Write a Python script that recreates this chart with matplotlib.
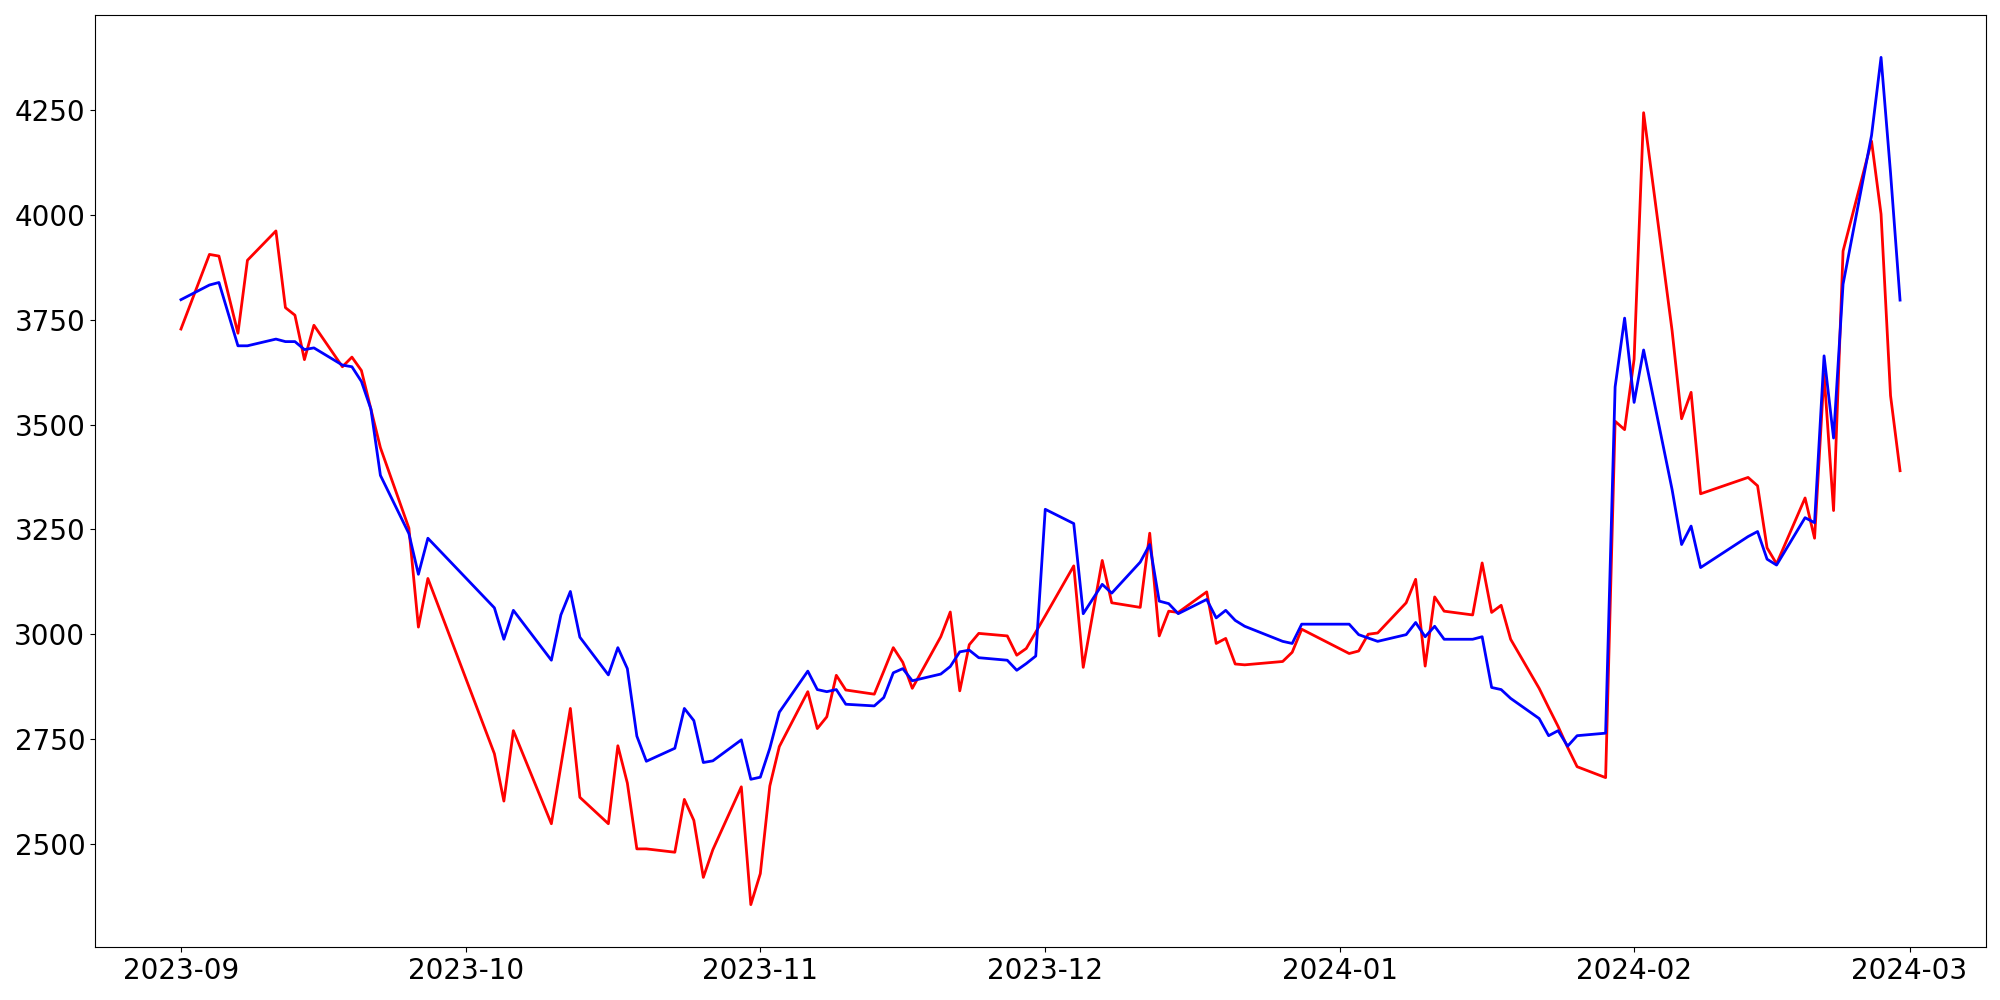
import matplotlib
matplotlib.use("Agg")
import matplotlib.pyplot as plt
import pandas as pd

# daty notowan (dni robocze z przerwami swiatecznymi)
daty = [
    "2023-09-01", "2023-09-04", "2023-09-05", "2023-09-07", "2023-09-08",
    "2023-09-11", "2023-09-12", "2023-09-13", "2023-09-14", "2023-09-15",
    "2023-09-18", "2023-09-19", "2023-09-20", "2023-09-21", "2023-09-22",
    "2023-09-25", "2023-09-26", "2023-09-27",
    "2023-10-04", "2023-10-05", "2023-10-06",
    "2023-10-10", "2023-10-11", "2023-10-12", "2023-10-13",
    "2023-10-16", "2023-10-17", "2023-10-18", "2023-10-19", "2023-10-20",
    "2023-10-23", "2023-10-24", "2023-10-25", "2023-10-26", "2023-10-27",
    "2023-10-30", "2023-10-31", "2023-11-01", "2023-11-02", "2023-11-03",
    "2023-11-06", "2023-11-07", "2023-11-08", "2023-11-09", "2023-11-10",
    "2023-11-13", "2023-11-14", "2023-11-15", "2023-11-16", "2023-11-17",
    "2023-11-20", "2023-11-21", "2023-11-22", "2023-11-23", "2023-11-24",
    "2023-11-27", "2023-11-28", "2023-11-29", "2023-11-30", "2023-12-01",
    "2023-12-04", "2023-12-05", "2023-12-07", "2023-12-08",
    "2023-12-11", "2023-12-12", "2023-12-13", "2023-12-14", "2023-12-15",
    "2023-12-18", "2023-12-19", "2023-12-20", "2023-12-21", "2023-12-22",
    "2023-12-26", "2023-12-27", "2023-12-28",
    "2024-01-02", "2024-01-03", "2024-01-04", "2024-01-05",
    "2024-01-08", "2024-01-09", "2024-01-10", "2024-01-11", "2024-01-12",
    "2024-01-15", "2024-01-16", "2024-01-17", "2024-01-18", "2024-01-19",
    "2024-01-22", "2024-01-23", "2024-01-24", "2024-01-25", "2024-01-26",
    "2024-01-29", "2024-01-30", "2024-01-31", "2024-02-01", "2024-02-02",
    "2024-02-05", "2024-02-06", "2024-02-07", "2024-02-08",
    "2024-02-13", "2024-02-14", "2024-02-15", "2024-02-16",
    "2024-02-19", "2024-02-20", "2024-02-21", "2024-02-22", "2024-02-23",
    "2024-02-26", "2024-02-27", "2024-02-28", "2024-02-29",
]

wartosci_czerwone = [
    3728, 3906, 3902, 3718, 3892,
    3962, 3779, 3761, 3655, 3737,
    3638, 3661, 3629, 3537, 3445,
    3253, 3017, 3133,
    2715, 2602, 2770,
    2548, 2686, 2823, 2611,
    2548, 2734, 2645, 2488, 2488,
    2480, 2606, 2556, 2420, 2486,
    2636, 2355, 2429, 2638, 2732,
    2863, 2775, 2803, 2902, 2867,
    2857, 2912, 2968, 2933, 2871,
    2994, 3053, 2865, 2975, 3002,
    2996, 2950, 2966, 3005, 3044,
    3163, 2921, 3176, 3075,
    3064, 3241, 2996, 3055, 3052,
    3101, 2978, 2990, 2929, 2927,
    2935, 2957, 3012,
    2954, 2960, 3000, 3003,
    3075, 3131, 2924, 3089, 3055,
    3046, 3170, 3052, 3069, 2988,
    2871, 2825, 2780, 2730, 2684,
    2658, 3508, 3488, 3656, 4244,
    3724, 3514, 3577, 3335,
    3374, 3354, 3206, 3168,
    3325, 3229, 3621, 3295, 3914,
    4176, 4002, 3569, 3390,
]

wartosci_niebieskie = [
    3798, 3833, 3839, 3688, 3688,
    3704, 3698, 3698, 3679, 3683,
    3642, 3638, 3603, 3537, 3379,
    3240, 3143, 3229,
    3063, 2988, 3057,
    2938, 3046, 3102, 2993,
    2903, 2968, 2918, 2757, 2697,
    2728, 2823, 2794, 2694, 2698,
    2748, 2654, 2659, 2728, 2814,
    2912, 2868, 2863, 2868, 2833,
    2829, 2849, 2908, 2918, 2889,
    2905, 2923, 2958, 2962, 2944,
    2938, 2914, 2930, 2948, 3298,
    3264, 3049, 3119, 3098,
    3172, 3214, 3079, 3073, 3049,
    3083, 3039, 3057, 3033, 3019,
    2983, 2978, 3024,
    3024, 2999, 2991, 2983,
    2999, 3028, 2994, 3019, 2988,
    2988, 2994, 2873, 2868, 2847,
    2799, 2758, 2770, 2733, 2758,
    2764, 3590, 3754, 3553, 3678,
    3345, 3214, 3258, 3159,
    3233, 3245, 3179, 3165,
    3278, 3266, 3664, 3468, 3835,
    4190, 4376, 4100, 3797,
]


def rysuj_wykres():
    os_czasu = pd.to_datetime(daty)

    plt.rcParams["figure.figsize"] = (20, 10)
    plt.rcParams["font.size"] = 20
    fig = plt.figure()
    ax = fig.add_axes([0.0475, 0.053, 0.9455, 0.932])

    ax.plot(os_czasu, wartosci_czerwone, color="red", linewidth=2)
    ax.plot(os_czasu, wartosci_niebieskie, color="blue", linewidth=2)

    ax.tick_params(axis="both", labelsize=20)

    plt.savefig("out.png", dpi=100)


def main():
    rysuj_wykres()


if __name__ == "__main__":
    main()
